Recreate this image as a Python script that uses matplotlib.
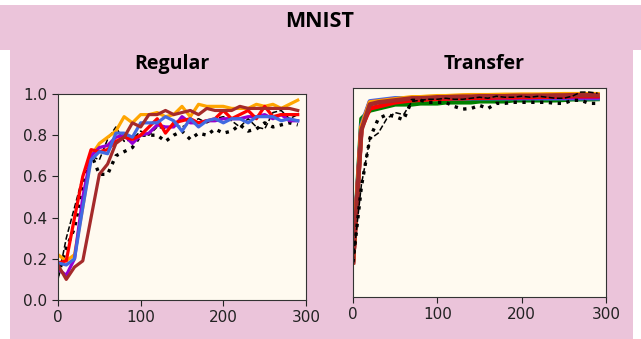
import matplotlib.pyplot as plt
from matplotlib.patches import Rectangle

# Daten, x = Epochen/Schritte
steps = list(range(0, 300, 10))

# Regular
reg_orange = [0.22, 0.19, 0.22, 0.45, 0.70, 0.76, 0.79, 0.82, 0.89, 0.86, 0.90, 0.90, 0.91, 0.89, 0.90,
              0.94, 0.89, 0.95, 0.94, 0.94, 0.94, 0.93, 0.93, 0.93, 0.95, 0.94, 0.95, 0.93, 0.95, 0.97]
reg_red = [0.18, 0.19, 0.40, 0.60, 0.73, 0.72, 0.73, 0.77, 0.79, 0.78, 0.80, 0.84, 0.88, 0.81, 0.86,
           0.87, 0.88, 0.86, 0.87, 0.88, 0.92, 0.88, 0.90, 0.92, 0.88, 0.94, 0.89, 0.90, 0.90, 0.90]
reg_purple = [0.15, 0.12, 0.20, 0.50, 0.70, 0.74, 0.75, 0.79, 0.80, 0.76, 0.80, 0.81, 0.85, 0.84, 0.84,
              0.89, 0.86, 0.86, 0.87, 0.87, 0.88, 0.88, 0.88, 0.89, 0.89, 0.90, 0.88, 0.90, 0.87, 0.87]
reg_blue = [0.18, 0.17, 0.20, 0.45, 0.68, 0.72, 0.71, 0.81, 0.81, 0.79, 0.86, 0.86, 0.86, 0.89, 0.87,
            0.82, 0.88, 0.84, 0.87, 0.88, 0.86, 0.88, 0.88, 0.86, 0.89, 0.89, 0.89, 0.87, 0.88, 0.87]
reg_brown = [0.17, 0.10, 0.16, 0.19, 0.40, 0.61, 0.66, 0.76, 0.79, 0.86, 0.84, 0.90, 0.90, 0.92, 0.90,
             0.91, 0.92, 0.90, 0.93, 0.92, 0.92, 0.92, 0.94, 0.93, 0.93, 0.93, 0.93, 0.93, 0.93, 0.92]
reg_dashed = [0.10, 0.30, 0.45, 0.60, 0.70, 0.68, 0.78, 0.84, 0.77, 0.78, 0.82, 0.80, 0.84, 0.83, 0.85,
              0.84, 0.86, 0.88, 0.86, 0.88, 0.89, 0.87, 0.84, 0.88, 0.84, 0.83, 0.91, 0.92, 0.88, 0.90]
reg_dotted = [0.12, 0.25, 0.35, 0.55, 0.71, 0.61, 0.61, 0.70, 0.72, 0.74, 0.80, 0.80, 0.80, 0.77, 0.80,
              0.82, 0.78, 0.81, 0.80, 0.83, 0.81, 0.82, 0.85, 0.82, 0.83, 0.86, 0.84, 0.85, 0.86, 0.85]

# Transfer
tr_green = [0.17, 0.87, 0.91, 0.92, 0.93, 0.94, 0.94, 0.94, 0.945, 0.945, 0.945, 0.95, 0.95, 0.95, 0.95,
            0.955, 0.955, 0.955, 0.955, 0.96, 0.96, 0.96, 0.96, 0.96, 0.96, 0.962, 0.965, 0.965, 0.965, 0.966]
tr_blue = [0.17, 0.84, 0.955, 0.96, 0.965, 0.97, 0.97, 0.97, 0.97, 0.97, 0.97, 0.97, 0.97, 0.97, 0.97,
           0.97, 0.97, 0.97, 0.97, 0.97, 0.97, 0.97, 0.97, 0.97, 0.97, 0.97, 0.97, 0.97, 0.97, 0.97]
tr_purple = [0.17, 0.83, 0.95, 0.955, 0.96, 0.965, 0.965, 0.97, 0.97, 0.97, 0.97, 0.97, 0.972, 0.972, 0.972,
             0.972, 0.972, 0.973, 0.973, 0.973, 0.974, 0.974, 0.974, 0.975, 0.975, 0.975, 0.975, 0.975, 0.975, 0.975]
tr_orange = [0.17, 0.83, 0.95, 0.955, 0.96, 0.965, 0.97, 0.975, 0.975, 0.978, 0.98, 0.98, 0.982, 0.984, 0.985,
             0.985, 0.985, 0.986, 0.987, 0.987, 0.988, 0.988, 0.988, 0.989, 0.989, 0.99, 0.99, 0.99, 0.99, 0.99]
tr_brown = [0.17, 0.815, 0.94, 0.95, 0.955, 0.96, 0.965, 0.97, 0.97, 0.972, 0.975, 0.975, 0.977, 0.978, 0.978,
            0.98, 0.98, 0.98, 0.98, 0.982, 0.982, 0.982, 0.983, 0.983, 0.984, 0.984, 0.985, 0.985, 0.985, 0.985]
tr_red = [0.17, 0.825, 0.92, 0.93, 0.94, 0.95, 0.955, 0.96, 0.962, 0.965, 0.967, 0.968, 0.97, 0.97, 0.972,
          0.972, 0.973, 0.974, 0.975, 0.975, 0.976, 0.976, 0.977, 0.977, 0.978, 0.978, 0.98, 0.98, 0.98, 0.98]
tr_dashed = [0.17, 0.55, 0.77, 0.80, 0.87, 0.90, 0.89, 0.955, 0.96, 0.965, 0.965, 0.97, 0.965, 0.965, 0.97,
             0.975, 0.97, 0.98, 0.975, 0.975, 0.98, 0.975, 0.98, 0.975, 0.97, 0.97, 0.98, 1.0, 1.0, 0.995]
tr_dotted = [0.17, 0.54, 0.775, 0.87, 0.89, 0.88, 0.865, 0.96, 0.96, 0.95, 0.95, 0.95, 0.93, 0.917, 0.92,
             0.935, 0.92, 0.945, 0.945, 0.95, 0.95, 0.95, 0.95, 0.95, 0.945, 0.945, 0.96, 0.96, 0.945, 0.945]

PINK = "#ebc4da"
FACE = "#fffaf0"

fig = plt.figure(figsize=(6.41, 3.39), dpi=100, facecolor="white")
W, H = 641, 339

# rosa Hintergrund (Folie) - hinter den Achsen
fig.patches.append(Rectangle((0, 1 - 50 / H), 1, 45 / H, transform=fig.transFigure,
                             facecolor=PINK, edgecolor="none", zorder=-10))
fig.patches.append(Rectangle((10 / W, 0), 623 / W, 1 - 50 / H, transform=fig.transFigure,
                             facecolor=PINK, edgecolor="none", zorder=-10))

ax1 = fig.add_axes([58 / W, 39 / H, 248 / W, 206 / H])
ax2 = fig.add_axes([353 / W, 42 / H, 253 / W, 209 / H])

lw = 2.3
ax1.plot(steps, reg_dotted, color="black", linestyle=":", linewidth=2.4)
ax1.plot(steps, reg_dashed, color="black", linestyle="--", linewidth=1.1)
ax1.plot(steps, reg_orange, color="orange", linewidth=lw)
ax1.plot(steps, reg_purple, color="darkviolet", linewidth=lw)
ax1.plot(steps, reg_red, color="red", linewidth=lw)
ax1.plot(steps, reg_blue, color="royalblue", linewidth=lw)
ax1.plot(steps, reg_brown, color="brown", linewidth=lw)
ax1.set_xlim(0, 300)
ax1.set_ylim(0, 1.0)
ax1.set_xticks([0, 100, 200, 300])
ax1.set_yticks([0.0, 0.2, 0.4, 0.6, 0.8, 1.0])

lw2 = 3.2
ax2.plot(steps, tr_green, color="green", linewidth=lw2)
ax2.plot(steps, tr_blue, color="royalblue", linewidth=lw2)
ax2.plot(steps, tr_purple, color="darkviolet", linewidth=lw2)
ax2.plot(steps, tr_red, color="red", linewidth=lw2)
ax2.plot(steps, tr_orange, color="orange", linewidth=lw2)
ax2.plot(steps, tr_brown, color="brown", linewidth=lw2)
ax2.plot(steps, tr_dotted, color="black", linestyle=":", linewidth=2.4)
ax2.plot(steps, tr_dashed, color="black", linestyle="--", linewidth=1.1)
ax2.set_xlim(0, 300)
ax2.set_ylim(0, 1.02)
ax2.set_xticks([0, 100, 200, 300])
ax2.set_yticks([])

for ax in (ax1, ax2):
    ax.set_facecolor(FACE)
    ax.tick_params(labelsize=11, colors="#222222", length=4)
    for s in ax.spines.values():
        s.set_color("#333333")

tfont = ["Open Sans", "DejaVu Sans"]
fig.text(320 / W, 1 - 27 / H, "MNIST", ha="center", va="baseline",
         fontsize=15.5, fontweight="bold", family=tfont)
fig.text(172 / W, 1 - 69 / H, "Regular", ha="center", va="baseline",
         fontsize=14, fontweight="bold", family=tfont)
fig.text(484 / W, 1 - 69 / H, "Transfer", ha="center", va="baseline",
         fontsize=14, fontweight="bold", family=tfont)

fig.savefig("out.png", dpi=100, facecolor=fig.get_facecolor())
